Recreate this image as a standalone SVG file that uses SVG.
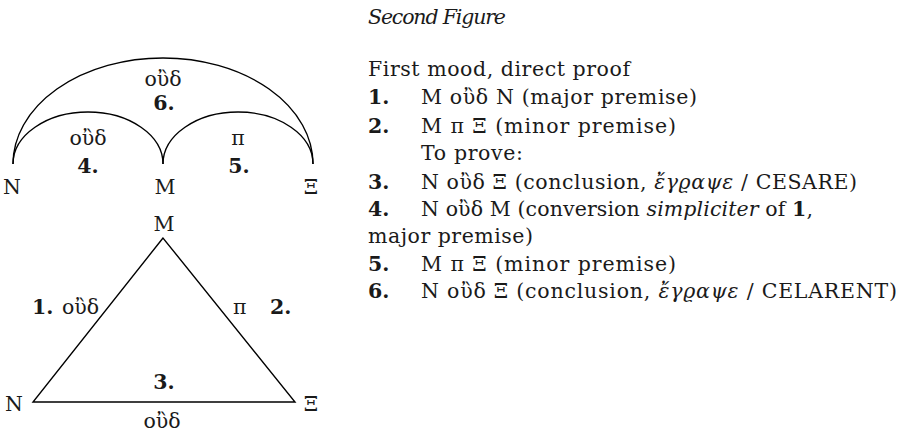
<svg xmlns="http://www.w3.org/2000/svg" width="912" height="434" viewBox="0 0 912 434">
<style>
text{font-family:"DejaVu Serif","Liberation Serif",serif;font-size:20.5px;fill:#1a1a1a}
.c{text-anchor:middle}
.b{font-weight:bold}
.i{font-style:italic}
.ln{fill:none;stroke:#000;stroke-width:1.4}
</style>
<rect width="912" height="434" fill="#fff"/>
<g id="arcs-diagram">
<g id="connectors">
<path class="ln" d="M13,164 A150,106 0 0 1 313,164"/>
<path class="ln" d="M13,164 A75,52 0 0 1 163,164"/>
<path class="ln" d="M163,164 A75,52 0 0 1 313,164"/>
</g>
<g id="arc-labels">
<text class="c" x="163" y="86">οὒδ</text>
<text class="c b" x="164" y="110">6.</text>
<text class="c" x="88" y="145">οὒδ</text>
<text class="c b" x="88" y="173">4.</text>
<text class="c" x="238" y="145">π</text>
<text class="c b" x="239" y="173">5.</text>
</g>
<g id="node-N1"><text class="c" x="12" y="194">N</text></g>
<g id="node-M1"><text class="c" x="165" y="194">M</text></g>
<g id="node-X1"><text class="c" x="311" y="194">Ξ</text></g>
</g>
<g id="triangle-diagram">
<g id="connectors2">
<path class="ln" d="M163,238 L33,402 L295,402 Z"/>
</g>
<g id="tri-labels">
<text class="b" x="32" y="314">1.</text>
<text x="62" y="314">οὒδ</text>
<text x="233" y="314">π</text>
<text class="b" x="270" y="314">2.</text>
<text class="c b" x="164" y="389">3.</text>
<text class="c" x="162" y="428">οὒδ</text>
</g>
<g id="node-M2"><text class="c" x="164" y="231">M</text></g>
<g id="node-N2"><text class="c" x="14" y="411">N</text></g>
<g id="node-X2"><text class="c" x="311" y="411">Ξ</text></g>
</g>
<g id="proof-text">
<text class="i" x="368" y="24" textLength="138">Second Figure</text>
<text x="368" y="76" textLength="262">First mood, direct proof</text>
<text class="b" x="368" y="104">1.</text>
<text x="421" y="104" textLength="276">M οὒδ N (major premise)</text>
<text class="b" x="368" y="133">2.</text>
<text x="421" y="133" textLength="255">M π Ξ (minor premise)</text>
<text x="421" y="160" textLength="102">To prove:</text>
<text class="b" x="368" y="189">3.</text>
<text x="421" y="189" textLength="436">N οὒδ Ξ (conclusion, <tspan class="i">ἔγϱαψε</tspan> / CESARE)</text>
<text class="b" x="368" y="216">4.</text>
<text x="421" y="216" textLength="392">N οὒδ M (conversion <tspan class="i">simpliciter</tspan> of <tspan class="b">1</tspan>,</text>
<text x="368" y="243" textLength="165">major premise)</text>
<text class="b" x="368" y="271">5.</text>
<text x="421" y="271" textLength="255">M π Ξ (minor premise)</text>
<text class="b" x="368" y="298">6.</text>
<text x="421" y="298" textLength="476">N οὒδ Ξ (conclusion, <tspan class="i">ἔγϱαψε</tspan> / CELARENT)</text>
</g>
</svg>
